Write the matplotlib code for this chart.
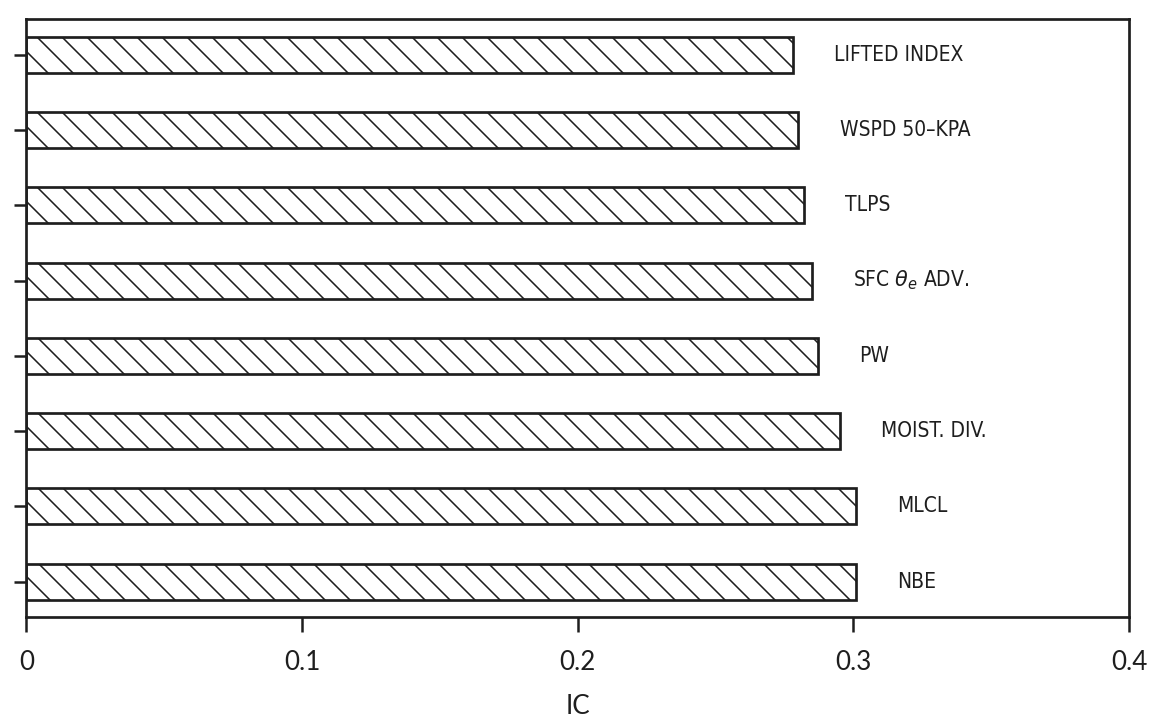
"""
Horizontal bar chart of IC values for eight predictors (hatched bars,
labels drawn to the right of each bar).
"""

import matplotlib

matplotlib.use("Agg")
import matplotlib.pyplot as plt

# Predictors from top to bottom, with their IC values
predictors = [
    "LIFTED INDEX",
    "WSPD 50\u2013KPA",
    "TLPS",
    r"SFC $\theta_{e}$ ADV.",
    "PW",
    "MOIST. DIV.",
    "MLCL",
    "NBE",
]
ic_values = [0.278, 0.280, 0.282, 0.285, 0.287, 0.295, 0.301, 0.301]
x_ticks = [0, 0.1, 0.2, 0.3, 0.4]
x_tick_labels = ["0", "0.1", "0.2", "0.3", "0.4"]

DPI = 150
LABEL_FONT = ["DejaVu Sans"]
TICK_FONT = ["Lato", "DejaVu Sans"]
INK = "#1e1e1e"

plt.rcParams["hatch.linewidth"] = 0.75
plt.rcParams["hatch.color"] = INK

fig = plt.figure(figsize=(1151 / DPI, 720 / DPI), dpi=DPI)
ax = fig.add_axes([0.023, 0.143, 0.958, 0.83])

positions = list(range(len(predictors)))[::-1]
ax.barh(
    positions,
    ic_values,
    height=0.48,
    color="white",
    edgecolor=INK,
    linewidth=1.3,
    hatch="\\\\",
)

for pos, val, name in zip(positions, ic_values, predictors):
    ax.text(
        val + 0.015,
        pos,
        name,
        va="center",
        ha="left",
        fontsize=10,
        family=LABEL_FONT,
        fontstretch="condensed",
        color=INK,
    )

ax.set_xlim(0, 0.4)
ax.set_ylim(-0.47, len(predictors) - 1 + 0.47)
ax.set_xticks(x_ticks)
ax.set_xticklabels(x_tick_labels, family=TICK_FONT, fontsize=12.5)
ax.set_yticks(positions)
ax.set_yticklabels([])
ax.tick_params(axis="x", direction="out", length=7, width=1.2, pad=9, colors=INK)
ax.tick_params(axis="y", direction="out", length=6, width=1.2, colors=INK)
ax.set_xlabel("IC", family=TICK_FONT, fontsize=12.5, labelpad=9, color=INK)

for spine in ax.spines.values():
    spine.set_linewidth(1.3)
    spine.set_color(INK)

fig.savefig("out.png", dpi=DPI)
